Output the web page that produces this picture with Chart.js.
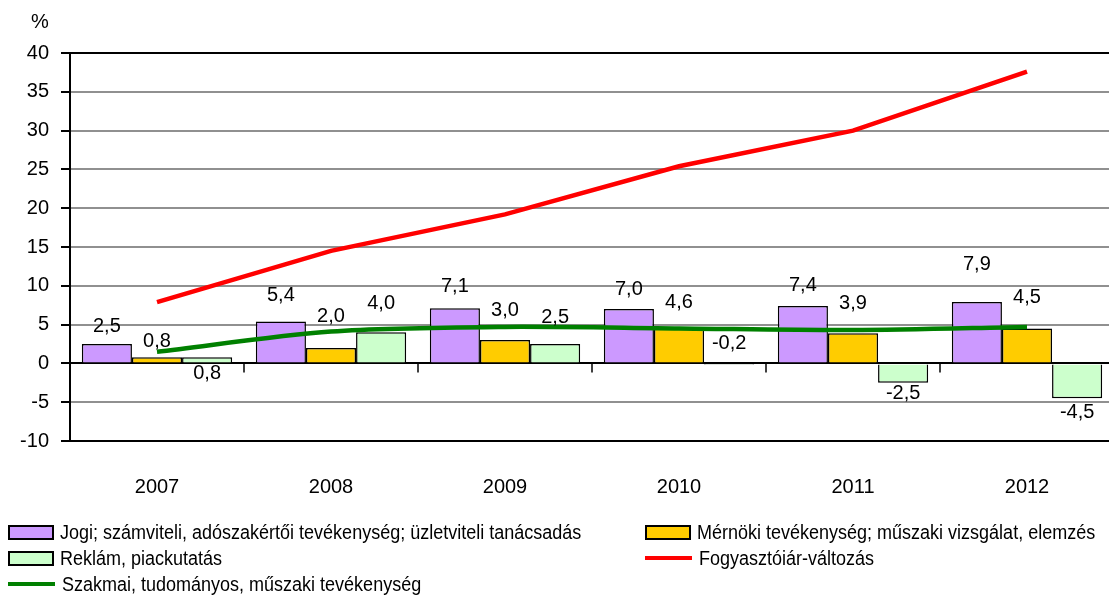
<!DOCTYPE html>
<html>
<head>
<meta charset="utf-8">
<script src="https://cdn.jsdelivr.net/npm/chart.js@4"></script>
<style>
  html, body { margin: 0; padding: 0; background: #fff; overflow: hidden; width: 1109px; height: 596px; }
  #wrap { position: absolute; left: 0; top: 0; width: 1116px; height: 596px; }
  #legend {
    position: absolute; left: 8px; top: 519px;
    display: grid; grid-template-columns: 637px auto; grid-auto-rows: 26px;
    font: 20px "Liberation Sans", Arial, sans-serif;
    color: #000;
  }
  .item { display: flex; align-items: center; white-space: nowrap; }
  .item .t { display: inline-block; transform: scaleX(0.9); transform-origin: left center; }
  .sw { width: 46px; height: 15px; box-sizing: border-box; border: 2px solid #000; margin-right: 6px; flex: none; }
  .ln { width: 47px; height: 4px; margin-right: 7px; flex: none; }
</style>
</head>
<body>
<div id="wrap"><canvas id="myChart"></canvas></div>
<div id="legend"></div>
<script>
const FONT = '"Liberation Sans", Arial, sans-serif';

const years = ["2007", "2008", "2009", "2010", "2011", "2012"];
const jogi = [2.5, 5.4, 7.1, 7.0, 7.4, 7.9];
const mernoki = [0.8, 2.0, 3.0, 4.6, 3.9, 4.5];
const reklam = [0.8, 4.0, 2.5, -0.2, -2.5, -4.5];
const fogyasztoiar = [7.9, 14.5, 19.2, 25.4, 30.0, 37.6];
const szakmai = [1.5, 4.1, 4.7, 4.5, 4.3, 4.7];

// label distance from bar end (px), negative = other side
const labelOffsets = [
  [18, 26, 22, 20, 20, 38],
  [16, 31, 30, 25, 30, 31],
  [-16, 29, 27, -21, 11, 14],
];

const extras = {
  id: "extras",
  afterDatasetsDraw(chart) {
    const c = chart.ctx;
    c.save();
    c.font = "20px " + FONT;
    c.fillStyle = "#000";
    c.textAlign = "center";
    c.textBaseline = "middle";
    [0, 1, 2].forEach((di) => {
      const meta = chart.getDatasetMeta(di);
      meta.data.forEach((el, i) => {
        const v = chart.data.datasets[di].data[i];
        const off = labelOffsets[di][i];
        const y = v >= 0 ? el.y - off : el.y + off;
        c.fillText(v.toFixed(1).replace(".", ","), el.x, y);
      });
    });
    // small ticks on the zero line between categories
    const x = chart.scales.x, yS = chart.scales.y;
    const y0 = yS.getPixelForValue(0);
    c.strokeStyle = "#000";
    c.lineWidth = 1.5;
    for (let i = 1; i < years.length; i++) {
      const px = (x.getPixelForValue(i - 1) + x.getPixelForValue(i)) / 2;
      c.beginPath();
      c.moveTo(px, y0);
      c.lineTo(px, y0 + 9);
      c.stroke();
    }
    c.fillText("%", chart.chartArea.left - 30, chart.chartArea.top - 31);
    c.restore();
  },
};

const chart = new Chart(document.getElementById("myChart").getContext("2d"), {
  data: {
    labels: years,
    datasets: [
      {
        type: "bar",
        label: "Jogi; számviteli, adószakértői tevékenység; üzletviteli tanácsadás",
        data: jogi,
        backgroundColor: "#CC99FF",
        borderColor: "#000",
        borderWidth: 1.5,
        order: 1,
      },
      {
        type: "bar",
        label: "Mérnöki tevékenység; műszaki vizsgálat, elemzés",
        data: mernoki,
        backgroundColor: "#FFCC00",
        borderColor: "#000",
        borderWidth: 1.5,
        order: 1,
      },
      {
        type: "bar",
        label: "Reklám, piackutatás",
        data: reklam,
        backgroundColor: "#CCFFCC",
        borderColor: "#000",
        borderWidth: 1.5,
        order: 1,
      },
      {
        type: "line",
        label: "Fogyasztóiár-változás",
        data: fogyasztoiar,
        borderColor: "#FF0000",
        borderWidth: 4.5,
        pointRadius: 0,
        tension: 0,
        order: 0,
      },
      {
        type: "line",
        label: "Szakmai, tudományos, műszaki tevékenység",
        data: szakmai,
        borderColor: "#008000",
        borderWidth: 4.5,
        pointRadius: 0,
        tension: 0.3,
        order: 0,
      },
    ],
  },
  options: {
    responsive: true,
    maintainAspectRatio: false,
    animation: false,
    layout: { padding: { top: 53, left: 0, right: 2, bottom: 0 } },
    datasets: { bar: { barPercentage: 1, categoryPercentage: 0.864 } },
    plugins: {
      legend: { display: false },
      tooltip: { enabled: false },
    },
    scales: {
      x: {
        grid: { display: false },
        border: { display: false },
        ticks: { color: "#000", font: { family: FONT, size: 20 }, padding: 26 },
        afterFit: (s) => { s.height = 596 - 441; },
      },
      y: {
        min: -10,
        max: 40,
        ticks: { stepSize: 5, color: "#000", font: { family: FONT, size: 20 }, padding: 12 },
        grid: {
          color: (ctx) => ([0, 40, -10].includes(ctx.tick.value) ? "#000" : "#909090"),
          lineWidth: 2,
          tickColor: "#000",
          tickLength: 9,
        },
        border: { color: "#000", width: 2 },
        afterFit: (s) => { s.width = 70; },
      },
    },
  },
  plugins: [extras],
});

const legend = document.getElementById("legend");
chart.data.datasets.forEach((ds) => {
  const item = document.createElement("div");
  item.className = "item";
  const sw = document.createElement("span");
  if (ds.type === "bar") {
    sw.className = "sw";
    sw.style.background = ds.backgroundColor;
  } else {
    sw.className = "ln";
    sw.style.background = ds.borderColor;
  }
  const txt = document.createElement("span");
  txt.className = "t";
  txt.textContent = ds.label;
  item.appendChild(sw);
  item.appendChild(txt);
  legend.appendChild(item);
});
</script>
</body>
</html>
